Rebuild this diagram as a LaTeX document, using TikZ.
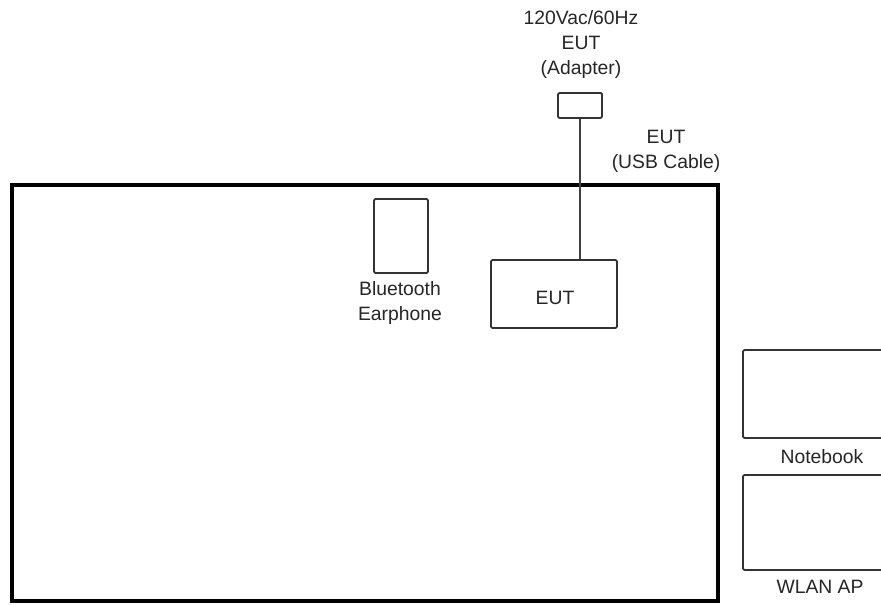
\documentclass[tikz,border=0pt]{standalone}
\usepackage{fontspec}
\setmainfont{Liberation Sans}
\begin{document}
\begin{tikzpicture}[x=0.75pt,y=-0.75pt,
  box/.style={draw=black!80,line width=1.4pt,rounded corners=1pt,inner sep=0pt,fill=none},
  lbl/.style={align=center,inner sep=0pt,font=\fontsize{14.5}{18.75}\selectfont,text=black!85},
  wire/.style={draw=black!75,line width=1.4pt}]
\clip (0,0) rectangle (881,605);
\fill[white] (0,0) rectangle (881,605);
% main table
\node[draw=black,line width=3pt,inner sep=0pt,minimum width=529.5pt,minimum height=312pt] (table) at (365,393) {};
% adapter
\node[box,minimum width=33pt,minimum height=18.75pt] (adapter) at (580,105.5) {};
\node[lbl] (adlbl) at (581,45) {120Vac/60Hz\\EUT\\(Adapter)};
% EUT
\node[box,minimum width=94.5pt,minimum height=51pt] (eut) at (554,294) {};
\node[lbl] (eutlbl) at (555,298) {EUT};
\node[lbl] (usblbl) at (666,151) {EUT\\(USB Cable)};
\draw[wire] (adapter.south) -- (adapter.south |- eut.north);
% bluetooth earphone
\node[box,minimum width=40.5pt,minimum height=55.5pt] (bt) at (401,236) {};
\node[lbl] (btlbl) at (400,303) {Bluetooth\\Earphone};
% notebook
\node[box,minimum width=114pt,minimum height=66pt] (nb) at (819,394) {};
\node[lbl] (nblbl) at (822,457) {Notebook};
% WLAN AP
\node[box,minimum width=114pt,minimum height=71.25pt] (ap) at (819,522.5) {};
\node[lbl] (aplbl) at (820,587) {WLAN AP};
\end{tikzpicture}
\end{document}
